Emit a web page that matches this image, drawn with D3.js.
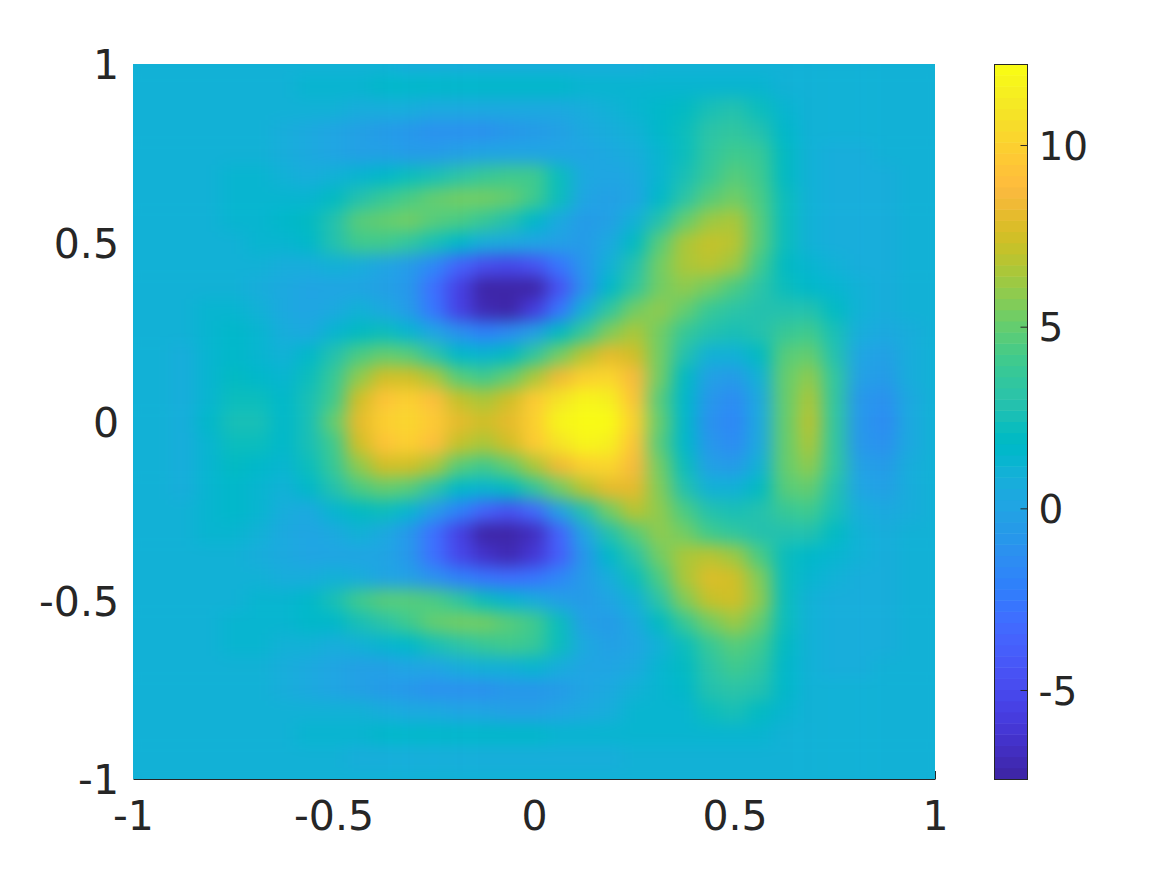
<!DOCTYPE html>
<html><head><meta charset="utf-8">
<script src="https://cdn.jsdelivr.net/npm/d3@7"></script>
<style>html,body{margin:0;padding:0;background:#fff}svg{display:block}text{font-family:"DejaVu Sans";fill:#262626}</style>
</head><body><svg id="c" width="1167" height="875"></svg>
<script>
const xExtent=[-1,1], yExtent=[-1,1];
const cExtent=[-7.45,12.23];
const xTicks=[-1,-0.5,0,0.5,1], xTickLabels=["-1","-0.5","0","0.5","1"];
const yTicks=[-1,-0.5,0,0.5,1], yTickLabels=["-1","-0.5","0","0.5","1"];
const cTicks=[-5,0,5,10], cTickLabels=["-5","0","5","10"];
const xCells=d3.range(33), yCells=d3.range(33);
const parula=[[.2422,.1504,.6603],[.2504,.165,.7076],[.2578,.1818,.7511],[.2647,.1978,.7952],[.2706,.2147,.8364],[.2751,.2342,.871],[.2783,.2559,.8991],[.2803,.2782,.9221],[.2813,.3006,.9414],[.281,.3228,.9579],[.2795,.3447,.9717],[.276,.3667,.9829],[.2699,.3892,.9906],[.2602,.4123,.9952],[.244,.4358,.9988],[.2206,.4603,.9973],[.1963,.4847,.9892],[.1834,.5074,.9798],[.1786,.5289,.9682],[.1764,.5499,.952],[.1687,.5703,.9359],[.154,.5902,.9218],[.146,.6091,.9079],[.138,.6276,.8973],[.1248,.6459,.8883],[.1113,.6635,.8763],[.0952,.6798,.8598],[.0689,.6948,.8394],[.0297,.7082,.8163],[.0036,.7203,.7917],[.0067,.7312,.766],[.0433,.7411,.7394],[.0964,.75,.712],[.1408,.7584,.6842],[.1717,.767,.6554],[.1938,.7758,.6251],[.2161,.7843,.5923],[.247,.7918,.5567],[.2906,.7973,.5188],[.3406,.8008,.4789],[.3909,.8029,.4354],[.4456,.8024,.3909],[.5044,.7993,.348],[.5616,.7942,.3045],[.6174,.7876,.2612],[.672,.7793,.2227],[.7242,.7698,.191],[.7738,.7598,.1646],[.8203,.7498,.1535],[.8634,.7406,.1596],[.9035,.733,.1774],[.9393,.7288,.21],[.9728,.7298,.2394],[.9956,.7434,.2371],[.997,.7659,.2199],[.9952,.7893,.2028],[.9892,.8136,.1885],[.9786,.8386,.1766],[.9676,.8639,.1643],[.961,.889,.1537],[.9597,.9135,.1423],[.9628,.9373,.1265],[.9691,.9606,.1064],[.9769,.9839,.0805]];
// values, row by row from y=1 down to y=-1, columns x=-1 to 1
const gridValues=[
[1,1,1,1,1,1,1,1,1,.9,.9,.8,.8,.7,.7,.7,.7,.7,.7,.8,.8,.9,.9,.9,1,1,1,1,1,1,1,1,1],
[1,1,1,1,1,1,1.1,1.2,1.3,1.4,1.5,1.6,1.6,1.6,1.5,1.5,1.5,1.5,1.4,1.3,1.3,1.2,1.2,1.2,1.2,1.2,1.1,1.1,1,1,1,1,1],
[1,1,1,1,1,1,1,1,.9,.8,.7,.6,.5,.4,.3,.3,.4,.5,.8,1.1,1.3,1.5,1.8,2.4,2.7,2.2,1.4,1.1,1,1,1,1,1],
[1,1,1,1,1,.9,.7,.4,0,-.3,-.6,-.9,-1.1,-1.1,-1,-.8,-.6,-.2,.3,.7,1.1,1.5,2.2,3.2,3.6,3,1.6,1,.9,.9,.9,1,1],
[1,1,1,1,1,.9,.6,.3,.1,-.1,-.3,-.5,-.5,-.3,0,.1,.2,.1,.2,.5,.7,1.3,2.1,3.5,4.2,3.7,1.8,1,.8,.8,.9,1,1],
[1,1,1,1.1,1.2,1.2,1,.8,.9,1.2,1.6,2.1,2.6,3.2,3.8,4.1,4,2.2,.4,0,.3,1.2,2.4,3.9,4.8,4.1,1.9,.9,.7,.7,.8,.9,1],
[1,1,1,1.1,1.3,1.4,1.3,1.4,1.8,2.8,3.7,4.5,5,5.2,5.2,5,4.2,2.2,.2,-.3,.2,1.5,3.3,4.8,5.4,4.4,2.1,.9,.7,.7,.8,.9,1],
[1,1,1,1.1,1.3,1.4,1.5,2,3,4.6,5,5.2,4.8,4.4,3.8,2.9,1.7,.4,-.5,-.3,.9,2.9,5,6.1,6.4,4.8,2.2,1,.7,.7,.8,.9,1],
[1,1,1,1,1.1,1.2,1.3,1.7,2.9,4.2,4.2,3.4,2.4,1.5,.8,.4,.2,-.3,-.5,.3,1.9,4.6,6.6,7.2,6.8,4.8,2.2,1.1,.8,.7,.8,.9,1],
[1,1,1,1,1,.9,.8,.7,.9,.8,.2,-.6,-1.8,-3.6,-4.8,-5.2,-4.4,-2.8,-.8,1,3,5.2,6.6,7,6.2,4.1,1.9,1.3,1.1,.8,.8,.9,1],
[1,1,1,1.1,1,.7,.5,.2,.2,.2,-.1,-.9,-3,-5.6,-7.2,-7.9,-7.4,-4.6,-1,1.7,3.6,5.4,6,5.4,4.4,3.3,2.1,1.6,1.4,1,.8,.9,1],
[1,.9,.9,1.2,1.3,.9,.4,.2,.4,.9,.4,-.4,-2.8,-5.4,-6.9,-7.2,-5.8,-2.6,1,3.4,5.2,5.8,5,3.8,3.3,3,3,2.7,1.8,1,.8,.9,1],
[1,.9,.9,1.3,1.5,1.2,.6,.5,1.2,2,2.1,1.4,.2,-1.2,-2,-1.6,-.1,1.9,3.9,5.7,6.6,5.2,3.8,2.9,2.6,2.9,3.9,4,2.4,.8,.5,.8,1],
[1,.9,.8,1.3,1.6,1.4,1,1.5,3,4.4,4.9,4.6,3.2,1.7,1.2,1.8,3.4,5.2,7,8,7.6,5.2,2.7,1,.9,2,4.6,4.9,2.9,.2,-.1,.8,1],
[1,.9,.8,1.3,1.8,1.7,1.3,2.2,3.8,6,7.4,7.6,6.4,4.6,4,5,6.6,8.4,9.8,10.3,8.6,5.2,2,-.2,-.5,.9,5,5.9,3.4,-.3,-.6,.6,1],
[1,.9,.8,1.4,2.1,2.1,1.5,2.4,4.2,7.4,9.4,9.8,8.9,7.2,6.6,7.6,9.6,11,11.8,11.6,9.2,4.6,1.7,-.9,-1.4,.5,5,6.5,3.4,-.7,-1.1,.5,1],
[1,.9,.8,1.5,2.6,2.4,1.5,2.6,5,8.2,10,10.2,9.6,8,7.6,8.2,10,11.8,12.6,12.4,10,4.9,1.7,-1.1,-1.9,.4,5.1,6.8,3.4,-.8,-1.3,.5,1],
[1,.9,.8,1.4,2.1,2.1,1.5,2.4,4.2,7.4,9.4,9.8,8.9,7.2,6.6,7.6,9.6,11,11.8,11.6,9.2,4.6,1.7,-.9,-1.4,.5,5,6.5,3.4,-.7,-1.1,.5,1],
[1,.9,.8,1.3,1.8,1.7,1.3,2.2,3.8,6,7.4,7.6,6.4,4.6,4,5,6.6,8.4,9.8,10.3,8.8,5.4,2.2,-.2,-.5,.9,5,5.9,3.4,-.3,-.6,.6,1],
[1,.9,.8,1.3,1.6,1.4,1,1.5,3,4.4,4.9,4.6,3.2,1.7,1.2,1.8,3.4,5.2,7,8,8,5.6,2.8,1,.9,2,4.6,4.9,2.9,.2,-.1,.8,1],
[1,.9,.9,1.3,1.5,1.2,.6,.5,1.2,2,2.1,1.2,-.4,-2.2,-3.6,-4.6,-3.2,-.2,3,5.2,6.8,5.8,4.4,3,2.6,2.9,3.9,4,2.4,.8,.5,.8,1],
[1,.9,.9,1.2,1.3,.9,.4,.2,.4,.9,.4,-.7,-3,-5.4,-7.2,-7.8,-6.6,-3.6,.1,2.9,4.8,5.8,5.4,4.2,3.4,3,3,2.7,1.8,1,.8,.9,1],
[1,1,1,1.1,1,.7,.5,.2,.2,.2,0,-.8,-3,-5,-6.4,-6.9,-6,-3.9,-.9,1.5,3.1,5.2,6.4,7,6.3,4.4,2.1,1.6,1.4,1,.8,.9,1],
[1,1,1,1,1,.9,.8,.7,.9,.8,.2,-.3,-1.2,-2.2,-2.8,-2.9,-2.6,-1.8,-.5,.8,2.3,4.4,6.6,7.9,7.6,5.6,2.2,1.3,1.1,.8,.8,.9,1],
[1,1,1,1,1.1,1.2,1.3,1.7,2.6,4,4.6,4.8,4.4,3.4,2.2,1.2,.7,-.2,-.5,0,1.1,3.2,5.6,7.2,7.4,5.8,2.2,1.1,.8,.7,.8,.9,1],
[1,1,1,1.1,1.3,1.4,1.4,1.5,1.7,2.4,3.2,4.2,5,5.2,5.2,4.8,4,2.3,-.1,-.4,.3,1.8,3.7,5.4,6.2,5,2.1,1,.7,.7,.8,.9,1],
[1,1,1,1.1,1.2,1.3,1.1,.9,.8,.9,1.3,1.7,2.5,3.2,3.8,4,3.9,2.1,.3,-.3,.1,1,2.2,3.8,4.8,4,1.9,.9,.7,.7,.8,.9,1],
[1,1,1,1,1,.9,.6,.3,.1,-.1,-.1,0,.2,.6,.9,1.1,1.2,.8,.2,.2,.5,1.2,1.9,3.2,4,3.4,1.7,.9,.8,.8,.9,1,1],
[1,1,1,1,1,.9,.7,.4,0,-.3,-.6,-.9,-1.1,-1.1,-1,-.9,-.8,-.4,0,.5,.9,1.2,1.7,2.9,3.3,2.8,1.5,1,.9,.9,.9,1,1],
[1,1,1,1,1,1,1.1,1.1,1,.9,.7,.5,.3,.1,0,-.1,-.1,0,.4,.8,1.2,1.4,1.4,2.2,2.5,2,1.3,1.1,1,1,1,1,1],
[1,1,1,1,1,1,1.1,1.2,1.3,1.4,1.5,1.6,1.6,1.6,1.6,1.5,1.5,1.4,1.3,1.3,1.3,1.2,1.3,1.4,1.4,1.3,1.1,1.1,1,1,1,1,1],
[1,1,1,1,1,1,1,1,.9,.8,.7,.7,.6,.6,.7,.8,.8,.8,.8,.8,.9,.9,.9,.9,1,1,1,1,1,1,1,1,1],
[1,1,1,1,1,1,1,1,1,1,1,1,.9,.9,.9,.9,.9,.9,.9,1,1,1,1,1,1,1,1,1,1,1,1,1,1]
];
const svg=d3.select("#c");
const M={l:133,r:935,t:64,b:779}, CB={l:994.5,r:1027.5};
const x=d3.scaleLinear().domain(xExtent).range([M.l,M.r]);
const y=d3.scaleLinear().domain(yExtent).range([M.b,M.t]);
const cy=d3.scaleLinear().domain(cExtent).range([M.b,M.t]);
const hex=parula.map(p=>d3.rgb(p[0]*255,p[1]*255,p[2]*255).formatHex());
const color=d3.scaleQuantize().domain(cExtent).range(hex);
const col=d3.scaleBand().domain(xCells).range([M.l-12.5,M.r+12.5]);
const row=d3.scaleBand().domain(yCells).range([M.t-11,M.b+11]);
const defs=svg.append("defs");
defs.append("clipPath").attr("id","pl").append("rect").attr("x",M.l).attr("y",M.t).attr("width",M.r-M.l).attr("height",M.b-M.t);
const f=defs.append("filter").attr("id","sm").attr("filterUnits","userSpaceOnUse").attr("x",0).attr("y",0).attr("width",1167).attr("height",875).attr("color-interpolation-filters","sRGB");
f.append("feGaussianBlur").attr("stdDeviation","9 8");
// axes under the image
const size=41;
const gx=svg.append("g").attr("transform",`translate(0,${M.b})`).call(d3.axisBottom(x).tickValues(xTicks).tickFormat((d,i)=>xTickLabels[i]).tickSize(-8).tickSizeOuter(0));
gx.selectAll("path,line").attr("stroke","#262626");
gx.selectAll("text").attr("font-size",size).attr("y",51).attr("dy",0).attr("fill","#262626");
const gy=svg.append("g").attr("transform",`translate(${M.l},0)`).call(d3.axisLeft(y).tickValues(yTicks).tickFormat((d,i)=>yTickLabels[i]).tickSize(0).tickPadding(14));
gy.select(".domain").remove();
gy.selectAll("text").attr("font-size",size).attr("dy",".36em").attr("fill","#262626");
// heat map
const hm=svg.append("g").attr("clip-path","url(#pl)");
hm.append("rect").attr("x",M.l).attr("y",M.t).attr("width",M.r-M.l).attr("height",M.b-M.t).attr("fill",color(1));
hm.append("g").attr("filter","url(#sm)").selectAll("g").data(gridValues).join("g")
 .selectAll("rect").data((r,j)=>r.map((v,i)=>({i,j,v}))).join("rect")
 .attr("x",d=>col(d.i)).attr("y",d=>row(d.j)).attr("width",col.bandwidth()+.5).attr("height",row.bandwidth()+.5).attr("fill",d=>color(d.v));
// colourbar
const cStep=(cExtent[1]-cExtent[0])/hex.length;
svg.append("g").selectAll("rect").data(hex).join("rect")
 .attr("x",CB.l).attr("width",CB.r-CB.l)
 .attr("y",(d,i)=>cy(cExtent[0]+(i+1)*cStep)).attr("height",cy(0)-cy(cStep)+.5).attr("fill",d=>d);
svg.append("rect").attr("x",CB.l).attr("y",M.t+.5).attr("width",CB.r-CB.l).attr("height",M.b-M.t).attr("fill","none").attr("stroke","#262626");
const gc=svg.append("g").attr("transform",`translate(${CB.r},0)`).call(d3.axisRight(cy).tickValues(cTicks).tickFormat((d,i)=>cTickLabels[i]).tickSize(-7));
gc.select(".domain").remove();
gc.selectAll("line").attr("stroke","#262626");
gc.selectAll("text").attr("font-size",39).attr("x",11).attr("dy",".36em").attr("fill","#262626");
</script></body></html>
